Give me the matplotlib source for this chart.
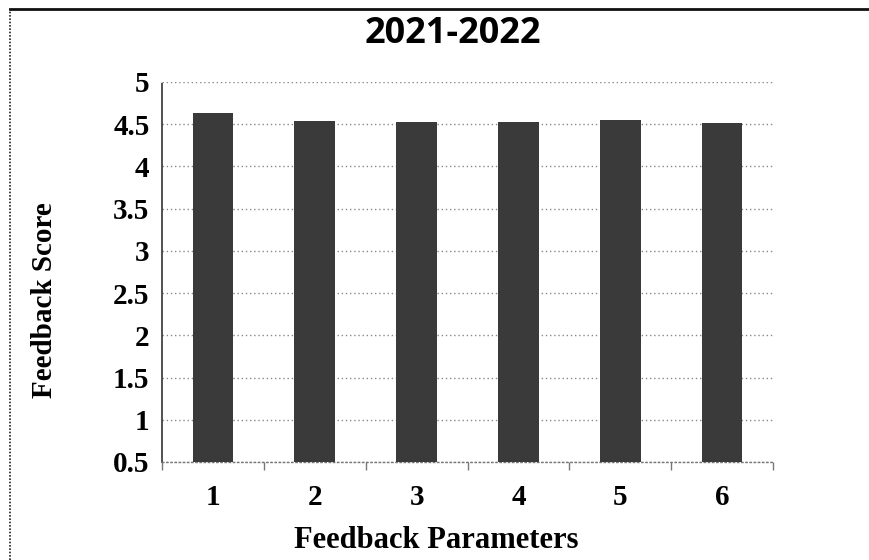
import numpy as np
import matplotlib
matplotlib.use("Agg")
import matplotlib.pyplot as plt
from matplotlib.lines import Line2D

# Data
parameters = ["1", "2", "3", "4", "5", "6"]
scores = [4.63, 4.54, 4.53, 4.53, 4.55, 4.52]
y_ticks = [0.5, 1, 1.5, 2, 2.5, 3, 3.5, 4, 4.5, 5]
y_tick_labels = ["0.5", "1", "1.5", "2", "2.5", "3", "3.5", "4", "4.5", "5"]

W, H = 869, 560
fig = plt.figure(figsize=(W / 100, H / 100), dpi=100)
ax = fig.add_axes([162 / W, 1 - 462 / H, 611 / W, 380 / H])

x = np.arange(len(parameters))
ax.bar(x, scores, width=0.4, color="#3a3a3a", zorder=3)

ax.set_xlim(-0.5, len(parameters) - 0.5)
ax.set_ylim(0.5, 5)

# Gridlines
ax.set_yticks(y_ticks)
ax.set_yticklabels(y_tick_labels, fontsize=21, fontweight="bold", family="Liberation Serif")
ax.yaxis.grid(True, linestyle=(0, (1, 2)), color="#888888", linewidth=1.0, zorder=0)
ax.tick_params(axis="y", length=0, pad=9)

# Category labels under bars, tick marks between categories
ax.set_xticks(x)
ax.set_xticklabels(parameters, fontsize=21, fontweight="bold", family="Liberation Serif")
ax.tick_params(axis="x", length=0, pad=16)
ax.set_xticks(np.arange(-0.5, len(parameters), 1), minor=True)
ax.tick_params(axis="x", which="minor", length=6, width=1, color="#777777")

for side in ["top", "right"]:
    ax.spines[side].set_visible(False)
ax.spines["left"].set_linestyle((0, (1, 1)))
ax.spines["left"].set_color("#333333")
ax.spines["left"].set_linewidth(1.2)
ax.spines["bottom"].set_linestyle((0, (1, 2)))
ax.spines["bottom"].set_color("#777777")
ax.spines["bottom"].set_linewidth(1.0)

fig.text(436 / W, 1 - 540 / H, "Feedback Parameters", ha="center", va="center",
         fontsize=22, fontweight="bold", family="Liberation Serif")
fig.text(45 / W, 1 - 300 / H, "Feedback Score", rotation=90, ha="center", va="center",
         fontsize=21, fontweight="bold", family="Liberation Serif")

fig.text(453 / W, 1 - 34 / H, "2021-2022", ha="center", va="center",
         fontsize=26, fontweight="bold", family="Open Sans")

# Outer chart border (scanned, only left and top visible)
fig.add_artist(Line2D([10 / W, 10 / W], [0, 1 - 9 / H], transform=fig.transFigure,
                      color="#222222", linewidth=1.2, linestyle=(0, (1, 1))))
fig.add_artist(Line2D([10 / W, 1], [1 - 9 / H, 1 - 9 / H], transform=fig.transFigure,
                      color="#111111", linewidth=2.0))

fig.savefig("out.png", dpi=100)
